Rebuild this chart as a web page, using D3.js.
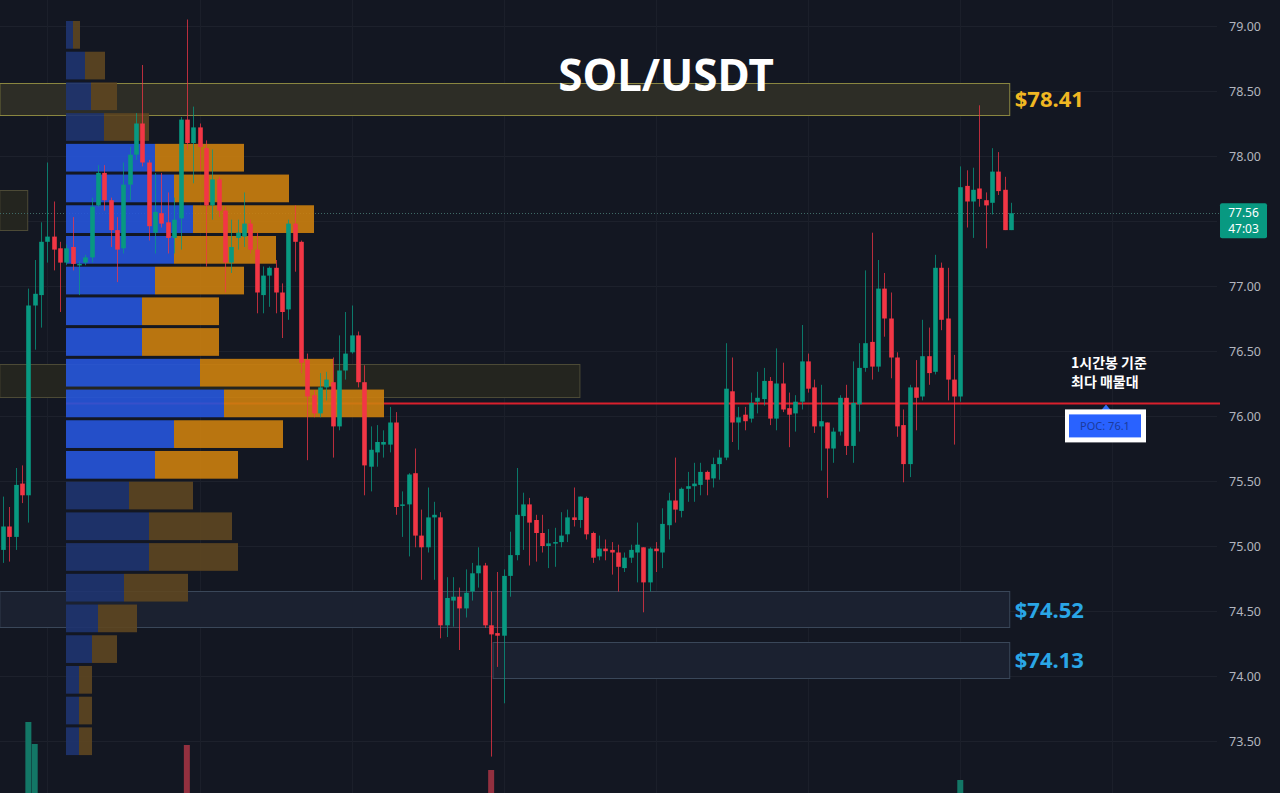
<!DOCTYPE html>
<html>
<head>
<meta charset="utf-8">
<script src="https://cdn.jsdelivr.net/npm/d3@7/dist/d3.min.js"></script>
<style>
  html, body { margin: 0; padding: 0; background: #131722; }
  svg { display: block; }
</style>
</head>
<body>
<svg id="chart"></svg>
<script>
// 1h candles, SOL/USDT
var opens = [
  74.97, 75.15, 75.07, 75.48, 75.39, 76.85, 76.93, 77.34, 77.38, 77.29,
  77.18, 77.30, 77.16, 77.18, 77.22, 77.62, 77.87, 77.66, 77.43, 77.29,
  77.78, 78.01, 78.25, 77.95, 77.41, 77.56, 77.49, 77.37, 77.52, 78.28,
  78.10, 78.22, 78.06, 77.62, 77.82, 77.58, 77.18, 77.37, 77.38, 77.48,
  77.28, 76.93, 77.08, 77.14, 76.95, 76.82, 77.48, 77.34, 76.43, 76.16,
  76.02, 76.22, 76.26, 75.92, 76.35, 76.49, 76.62, 76.26, 75.61, 75.72,
  75.78, 75.78, 75.95, 75.31, 75.32, 75.56, 75.08, 74.99, 75.22, 75.22,
  74.39, 74.58, 74.61, 74.52, 74.65, 74.79, 74.85, 74.39, 74.33, 74.31,
  74.77, 74.93, 75.23, 75.32, 75.20, 75.10, 75.00, 75.02, 75.03, 75.09,
  75.22, 75.20, 75.37, 75.10, 74.92, 74.98, 74.97, 74.95, 74.83, 74.91,
  74.95, 74.99, 74.72, 74.98, 74.95, 75.16, 75.35, 75.27, 75.44, 75.46,
  75.47, 75.57, 75.52, 75.63, 75.68, 76.19, 75.95, 76.01, 75.98, 76.11,
  76.13, 76.27, 75.98, 76.25, 76.06, 76.02, 76.11, 76.42, 76.22, 75.92,
  75.95, 75.75, 75.88, 76.14, 75.77, 76.09, 76.37, 76.57, 76.38, 76.98,
  76.75, 76.45, 75.93, 75.63, 76.22, 76.15, 76.46, 76.34, 77.14, 76.75,
  76.28, 76.15, 77.77, 77.65, 77.75, 77.66, 77.64, 77.88, 77.74, 77.43
];
var highs = [
  75.38, 75.30, 75.60, 75.62, 76.98, 77.20, 77.49, 77.95, 77.65, 77.34,
  77.32, 77.53, 77.19, 77.24, 77.68, 77.93, 77.93, 77.68, 77.53, 77.95,
  78.07, 78.33, 78.70, 77.97, 77.87, 77.87, 77.72, 77.68, 78.30, 79.05,
  78.38, 78.25, 78.12, 78.05, 77.84, 77.61, 77.51, 77.51, 77.72, 77.51,
  77.41, 77.15, 77.15, 77.20, 77.02, 77.51, 77.62, 77.35, 76.48, 76.20,
  76.33, 76.34, 76.45, 76.62, 76.80, 76.85, 76.65, 76.39, 75.92, 75.93,
  75.89, 76.07, 76.03, 75.42, 75.56, 75.75, 75.28, 75.45, 75.34, 75.26,
  74.76, 74.76, 74.68, 74.82, 74.87, 74.99, 74.87, 74.65, 74.80, 74.82,
  75.11, 75.60, 75.41, 75.37, 75.24, 75.24, 75.13, 75.14, 75.26, 75.28,
  75.45, 75.38, 75.38, 75.11, 75.08, 75.05, 75.03, 75.01, 74.95, 75.01,
  75.18, 74.99, 74.99, 75.03, 75.29, 75.41, 75.68, 75.45, 75.57, 75.64,
  75.64, 75.58, 75.68, 75.74, 76.56, 76.45, 76.07, 76.07, 76.18, 76.34,
  76.37, 76.30, 76.52, 76.41, 76.18, 76.16, 76.70, 76.48, 76.28, 76.24,
  75.95, 75.91, 76.16, 76.24, 76.42, 76.56, 77.12, 77.41, 77.20, 77.10,
  76.95, 76.49, 76.05, 76.24, 76.43, 76.74, 76.68, 77.24, 77.18, 77.14,
  76.47, 77.92, 77.89, 77.91, 78.39, 77.72, 78.06, 78.03, 77.84, 77.64
];
var lows = [
  74.87, 74.88, 74.97, 75.33, 75.18, 76.51, 76.68, 77.18, 77.12, 76.80,
  77.16, 77.12, 76.93, 77.16, 77.18, 77.61, 77.58, 77.30, 77.03, 77.25,
  77.66, 77.97, 77.92, 77.35, 77.25, 77.45, 77.25, 77.25, 77.28, 78.05,
  77.79, 77.89, 77.15, 77.51, 77.53, 76.95, 77.10, 77.28, 77.30, 77.25,
  76.79, 76.79, 76.84, 76.79, 76.60, 76.74, 77.11, 76.33, 75.66, 75.99,
  75.99, 76.12, 75.68, 75.89, 76.28, 76.48, 76.22, 75.39, 75.42, 75.61,
  75.68, 75.72, 75.24, 75.07, 74.92, 74.99, 74.74, 74.95, 74.74, 74.29,
  74.30, 74.38, 74.20, 74.45, 74.58, 74.68, 74.37, 73.38, 74.07, 73.79,
  74.61, 74.89, 74.97, 74.85, 74.88, 74.95, 74.83, 74.84, 74.99, 75.03,
  75.15, 75.14, 75.05, 74.87, 74.89, 74.89, 74.78, 74.65, 74.80, 74.87,
  74.72, 74.49, 74.65, 74.80, 74.83, 75.05, 75.18, 75.22, 75.34, 75.34,
  75.39, 75.39, 75.45, 75.51, 75.66, 75.80, 75.74, 75.89, 75.95, 76.02,
  76.08, 75.93, 75.89, 76.03, 75.76, 75.88, 76.05, 76.18, 75.87, 75.58,
  75.37, 75.64, 75.85, 75.70, 75.64, 75.88, 76.34, 76.28, 76.34, 76.61,
  76.29, 75.84, 75.49, 75.53, 75.89, 76.12, 76.24, 76.32, 76.66, 76.12,
  75.78, 76.11, 77.45, 77.37, 77.61, 77.29, 77.55, 77.70, 77.43, 77.43
];
var closes = [
  75.15, 75.07, 75.47, 75.39, 76.85, 76.94, 77.34, 77.38, 77.28, 77.18,
  77.29, 77.17, 77.17, 77.22, 77.61, 77.87, 77.66, 77.43, 77.28, 77.78,
  78.01, 78.25, 77.95, 77.46, 77.57, 77.48, 77.37, 77.51, 78.28, 78.10,
  78.22, 78.07, 77.62, 77.82, 77.58, 77.18, 77.30, 77.41, 77.48, 77.28,
  76.95, 77.08, 77.14, 76.95, 76.80, 77.48, 77.34, 76.41, 76.15, 76.02,
  76.22, 76.28, 75.92, 76.35, 76.48, 76.62, 76.26, 75.62, 75.74, 75.80,
  75.80, 75.95, 75.30, 75.32, 75.55, 75.08, 74.99, 75.22, 75.24, 74.39,
  74.60, 74.61, 74.52, 74.64, 74.79, 74.85, 74.39, 74.32, 74.31, 74.77,
  74.93, 75.24, 75.32, 75.18, 75.10, 75.00, 75.02, 75.03, 75.08, 75.22,
  75.20, 75.38, 75.09, 74.91, 74.98, 74.96, 74.95, 74.84, 74.91, 74.97,
  75.01, 74.72, 74.98, 74.96, 75.17, 75.35, 75.28, 75.44, 75.46, 75.48,
  75.57, 75.51, 75.63, 75.68, 76.21, 75.95, 75.99, 75.96, 76.10, 76.14,
  76.27, 75.98, 76.25, 76.05, 76.01, 76.11, 76.42, 76.21, 75.92, 75.96,
  75.75, 75.88, 76.14, 75.77, 76.10, 76.37, 76.56, 76.38, 76.98, 76.75,
  76.45, 75.92, 75.63, 76.22, 76.14, 76.46, 76.33, 77.14, 76.74, 76.28,
  76.15, 77.76, 77.65, 77.74, 77.67, 77.62, 77.88, 77.73, 77.43, 77.56
];

// volume bars tall enough to show at the bottom
var volIdx = [4, 5, 29, 77, 151];
var volVal = [142, 98, 96, 46, 26];

// volume profile, 24 rows from the low (73.38) to the high (79.05)
var profileLow = 73.38, profileHigh = 79.05;
var buyVol  = [13, 13, 13, 26, 32, 58, 83, 83, 63, 89, 108, 158, 134, 76, 76, 89, 108, 127, 108, 89, 38, 25, 19, 7];
var sellVol = [13, 13, 13, 25, 39, 64, 89, 83, 64, 83, 109, 160, 133, 77, 77, 89, 102, 121, 115, 89, 45, 26, 20, 7];
var valueAreaRows = [9, 19];

// zones drawn on the chart (candle index span)
var zoneTop    = [78.56, 77.74, 76.40, 74.65, 74.26];
var zoneBottom = [78.31, 77.43, 76.15, 74.37, 73.98];
var zoneFrom   = [-0.5, -0.5, -0.5, -0.5, 77.3];
var zoneTo     = [158.8, 3.9, 91.0, 158.8, 158.8];
var zoneKind   = ["resist", "old", "old", "support", "support"];
var zoneLabel  = ["$78.41", "", "", "$74.52", "$74.13"];

var priceTicks = [73.5, 74, 74.5, 75, 75.5, 76, 76.5, 77, 77.5, 78, 78.5, 79];
var dayIdx = [7, 31, 55, 79, 103, 127, 151, 175];
var lastPrice = 77.56, countdown = "47:03";

var W = 1280, H = 793, plotRight = 1217;
var svg = d3.select("#chart").attr("width", W).attr("height", H);

var x = d3.scaleLinear().domain([0, 159]).range([3, 1011]);
var y = d3.scaleLinear().domain([73.5, 79]).range([741, 26]);
var vy = d3.scaleLinear().domain([0, 400]).range([H, H - 200]);

var green = "#089981", red = "#f23645";

svg.append("rect").attr("width", W).attr("height", H).attr("fill", "#131722");

// grid
svg.append("g").selectAll("line").data(priceTicks).join("line")
    .attr("x1", 0).attr("x2", plotRight)
    .attr("y1", function (d) { return Math.round(y(d)) + 0.5; })
    .attr("y2", function (d) { return Math.round(y(d)) + 0.5; })
    .attr("stroke", "#1d212c").attr("stroke-width", 1);

svg.append("g").selectAll("line").data(dayIdx).join("line")
    .attr("x1", function (d) { return Math.round(x(d)) + 0.5; })
    .attr("x2", function (d) { return Math.round(x(d)) + 0.5; })
    .attr("y1", 0).attr("y2", H)
    .attr("stroke", "#1b1f2a").attr("stroke-width", 1);

// zones
var zoneFill = { resist: "#2d2d26", old: "#24251f", support: "#1b2130" };
var zoneStroke = { resist: "#8a8640", old: "#4c4a36", support: "#3a4759" };
var zoneText = { resist: "#f0b722", support: "#2aa6e6" };

var zones = svg.append("g");
zoneTop.forEach(function (t, i) {
    zones.append("rect")
        .attr("x", x(zoneFrom[i]))
        .attr("y", Math.round(y(t)) + 0.5)
        .attr("width", x(zoneTo[i]) - x(zoneFrom[i]))
        .attr("height", Math.round(y(zoneBottom[i]) - y(t)))
        .attr("fill", zoneFill[zoneKind[i]])
        .attr("stroke", zoneStroke[zoneKind[i]])
        .attr("stroke-width", 1);
    if (zoneLabel[i]) {
        svg.append("text")
            .attr("x", x(zoneTo[i]) + 5)
            .attr("y", y((t + zoneBottom[i]) / 2) + 8)
            .attr("font-family", "'Noto Sans', sans-serif")
            .attr("font-size", "22px")
            .attr("font-weight", "bold")
            .attr("fill", zoneText[zoneKind[i]])
            .text(zoneLabel[i]);
    }
});

// volume profile bins
var binSize = (profileHigh - profileLow) / buyVol.length;
var totals = buyVol.map(function (b, i) { return b + sellVol[i]; });
var pocRow = totals.indexOf(d3.max(totals));
var pocPrice = profileLow + (pocRow + 0.5) * binSize;
var vpX = 66;
var vpW = d3.scaleLinear().domain([0, d3.max(totals)]).range([0, 318]);

// current price dotted line
svg.append("line")
    .attr("x1", 0).attr("x2", 1220)
    .attr("y1", Math.round(y(lastPrice)) + 0.5).attr("y2", Math.round(y(lastPrice)) + 0.5)
    .attr("stroke", "#3f6a66").attr("stroke-dasharray", "1,2");

// POC line
svg.append("line")
    .attr("x1", vpX).attr("x2", 1220)
    .attr("y1", y(pocPrice)).attr("y2", y(pocPrice))
    .attr("stroke", "#d9202c").attr("stroke-width", 2);

var rows = buyVol.map(function (b, i) {
    return { i: i, buy: b, sell: sellVol[i],
             lo: profileLow + i * binSize, hi: profileLow + (i + 1) * binSize,
             inVA: i >= valueAreaRows[0] && i <= valueAreaRows[1] };
});

var vp = svg.append("g").attr("opacity", 0.9);
vp.selectAll("rect.buy").data(rows).join("rect")
    .attr("class", "buy")
    .attr("x", vpX)
    .attr("y", function (d) { return y(d.hi) + 1.5; })
    .attr("width", function (d) { return vpW(d.buy); })
    .attr("height", function (d) { return y(d.lo) - y(d.hi) - 3; })
    .attr("fill", function (d) { return d.inVA ? "#2656dc" : "#1f3470"; });
vp.selectAll("rect.sell").data(rows).join("rect")
    .attr("class", "sell")
    .attr("x", function (d) { return vpX + vpW(d.buy); })
    .attr("y", function (d) { return y(d.hi) + 1.5; })
    .attr("width", function (d) { return vpW(d.sell); })
    .attr("height", function (d) { return y(d.lo) - y(d.hi) - 3; })
    .attr("fill", function (d) { return d.inVA ? "#cc800f" : "#5e4621"; });

// volume bars
svg.append("g").selectAll("rect").data(volIdx).join("rect")
    .attr("x", function (d) { return x(d) - 3; })
    .attr("y", function (d, i) { return vy(volVal[i]); })
    .attr("width", 6)
    .attr("height", function (d, i) { return H - vy(volVal[i]); })
    .attr("fill", function (d) { return closes[d] >= opens[d] ? "#137766" : "#93303f"; });

// candles
var candles = d3.range(opens.length).map(function (i) {
    return { i: i, o: opens[i], h: highs[i], l: lows[i], c: closes[i], up: closes[i] >= opens[i] };
});
var cg = svg.append("g");
cg.selectAll("line").data(candles).join("line")
    .attr("x1", function (d) { return Math.round(x(d.i)) + 0.5; })
    .attr("x2", function (d) { return Math.round(x(d.i)) + 0.5; })
    .attr("y1", function (d) { return y(d.h); })
    .attr("y2", function (d) { return y(d.l); })
    .attr("stroke", function (d) { return d.up ? green : red; })
    .attr("stroke-opacity", 0.75)
    .attr("stroke-width", 1);
cg.selectAll("rect").data(candles).join("rect")
    .attr("x", function (d) { return Math.round(x(d.i)) + 0.5 - 2.3; })
    .attr("y", function (d) { return y(Math.max(d.o, d.c)); })
    .attr("width", 4.6)
    .attr("height", function (d) { return Math.max(1.5, Math.abs(y(d.o) - y(d.c))); })
    .attr("fill", function (d) { return d.up ? green : red; });

// title
svg.append("text")
    .attr("x", 666).attr("y", 91)
    .attr("text-anchor", "middle")
    .attr("font-family", "'Noto Sans', sans-serif")
    .attr("font-size", "44px")
    .attr("font-weight", "bold")
    .attr("fill", "#ffffff")
    .text("SOL/USDT");

// POC annotation
var pocY = y(pocPrice);
svg.append("text")
    .attr("x", 1071).attr("y", pocY - 35)
    .attr("font-family", "'Noto Sans CJK KR', sans-serif")
    .attr("font-size", "14px").attr("font-weight", "bold")
    .attr("fill", "#ffffff")
    .text("1시간봉 기준");
svg.append("text")
    .attr("x", 1071).attr("y", pocY - 16)
    .attr("font-family", "'Noto Sans CJK KR', sans-serif")
    .attr("font-size", "14px").attr("font-weight", "bold")
    .attr("fill", "#ffffff")
    .text("최다 매물대");
svg.append("path")
    .attr("d", "M1101," + (pocY + 7) + "L1106," + (pocY + 1) + "L1111," + (pocY + 7) + "Z")
    .attr("fill", "#2f6df5");
svg.append("rect")
    .attr("x", 1065).attr("y", pocY + 6).attr("width", 81).attr("height", 33)
    .attr("fill", "#ffffff");
svg.append("rect")
    .attr("x", 1069).attr("y", pocY + 11).attr("width", 72).attr("height", 23)
    .attr("fill", "#2962ff");
svg.append("text")
    .attr("x", 1105).attr("y", pocY + 26.5)
    .attr("text-anchor", "middle")
    .attr("font-family", "'Noto Sans', sans-serif")
    .attr("font-size", "11px")
    .attr("fill", "#1b3a9c")
    .text("POC: " + d3.format(".1f")(pocPrice));

// price axis; the tick under the last-price tag is hidden, as on the original
var axisTicks = priceTicks.filter(function (d) { return Math.abs(y(d) - y(lastPrice)) > 14; });
var axis = svg.append("g")
    .attr("transform", "translate(1229,0)")
    .call(d3.axisRight(y).tickValues(axisTicks).tickSize(0).tickPadding(0).tickFormat(d3.format(".2f")));
axis.select(".domain").remove();
axis.selectAll("text")
    .attr("font-family", "'Noto Sans', sans-serif")
    .attr("font-size", "12.5px")
    .attr("fill", "#b2b5be");

// last price tag
var ly = y(lastPrice);
svg.append("rect")
    .attr("x", 1220).attr("y", ly - 10).attr("width", 47).attr("height", 35)
    .attr("rx", 2).attr("fill", "#089981");
svg.append("text")
    .attr("x", 1243.5).attr("y", ly + 4)
    .attr("text-anchor", "middle")
    .attr("font-family", "'Noto Sans', sans-serif")
    .attr("font-size", "12px").attr("fill", "#ffffff")
    .text(d3.format(".2f")(lastPrice));
svg.append("text")
    .attr("x", 1243.5).attr("y", ly + 20)
    .attr("text-anchor", "middle")
    .attr("font-family", "'Noto Sans', sans-serif")
    .attr("font-size", "12px").attr("fill", "#ffffff")
    .text(countdown);
</script>
</body>
</html>
